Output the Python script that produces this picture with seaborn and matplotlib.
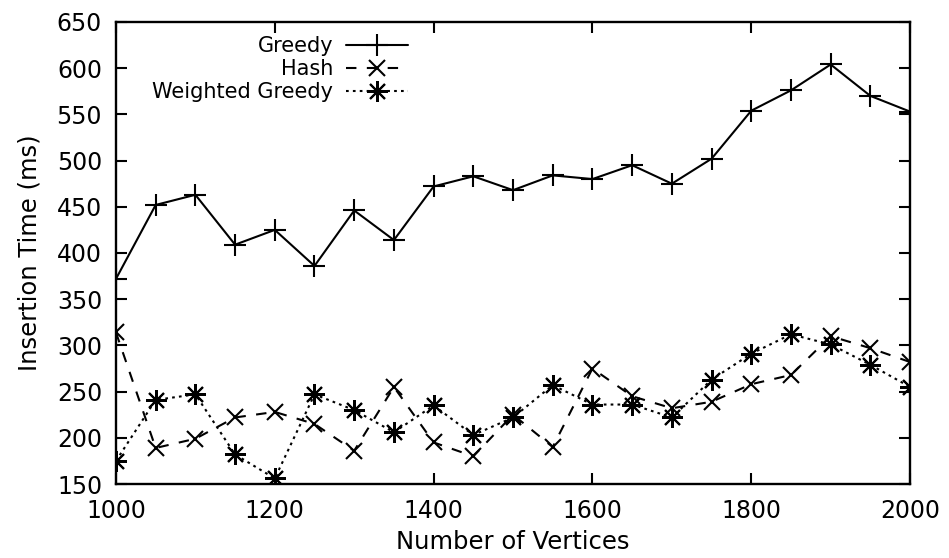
import matplotlib
matplotlib.use("Agg")
import matplotlib.pyplot as plt
import seaborn as sns
import numpy as np

vertices = [1000, 1050, 1100, 1150, 1200, 1250, 1300, 1350, 1400, 1450, 1500,
            1550, 1600, 1650, 1700, 1750, 1800, 1850, 1900, 1950, 2000]
greedy = [372, 452, 463, 409, 425, 386, 446, 414, 472, 483, 468,
          484, 480, 495, 475, 502, 554, 576, 604, 570, 553]
hash_ = [314, 189, 199, 222, 228, 215, 186, 255, 195, 180, 225,
         190, 275, 245, 232, 239, 258, 268, 310, 297, 282]
weighted = [175, 241, 247, 182, 156, 247, 230, 206, 235, 203, 222,
            257, 236, 236, 222, 263, 291, 312, 301, 279, 255]
xticks = [1000, 1200, 1400, 1600, 1800, 2000]
yticks = [150, 200, 250, 300, 350, 400, 450, 500, 550, 600, 650]

sns.set_style("ticks")
plt.rcParams['font.family'] = ['DejaVu Sans']
plt.rcParams['text.color'] = 'black'
plt.rcParams['axes.labelcolor'] = 'black'
plt.rcParams['xtick.color'] = 'black'
plt.rcParams['ytick.color'] = 'black'

fig = plt.figure(figsize=(9.49, 5.58), dpi=100)
ax = fig.add_axes([0.1222, 0.1326, 0.959 - 0.1222, 0.9606 - 0.1326])

lw = 1.5
sns.lineplot(x=vertices, y=greedy, ax=ax, color='black', marker='+',
             markersize=16, markeredgewidth=lw, markeredgecolor='black',
             linewidth=lw, linestyle='-', label='Greedy')
sns.lineplot(x=vertices, y=hash_, ax=ax, color='black', marker='x',
             markersize=12, markeredgewidth=lw, markeredgecolor='black',
             linewidth=lw, linestyle=(0, (5, 5)), label='Hash')
sns.lineplot(x=vertices, y=weighted, ax=ax, color='black', marker=(8, 2, 0),
             markersize=15, markeredgewidth=lw, markeredgecolor='black',
             linewidth=lw, linestyle=(0, (1.3, 2)), label='Weighted Greedy')

ax.set_xlim(1000, 2000)
ax.set_ylim(150, 650)
ax.set_xticks(xticks)
ax.set_yticks(yticks)
ax.tick_params(direction='in', length=8, width=1.5, labelsize=17,
               top=True, right=True)
ax.tick_params(axis='y', pad=10)
ax.tick_params(axis='x', pad=11)
for s in ax.spines.values():
    s.set_linewidth(1.7)
    s.set_color('black')
    s.set_visible(True)

ax.set_xlabel('Number of Vertices', fontsize=17.5, labelpad=5)
ax.set_ylabel('Insertion Time (ms)', fontsize=17.5, labelpad=11)

leg = ax.legend(loc='upper left', bbox_to_anchor=(0.022, 1.01), frameon=False,
                markerfirst=False, fontsize=15, handlelength=3.0,
                handletextpad=0.6, labelspacing=0.15)

fig.savefig('out.png', dpi=100)
